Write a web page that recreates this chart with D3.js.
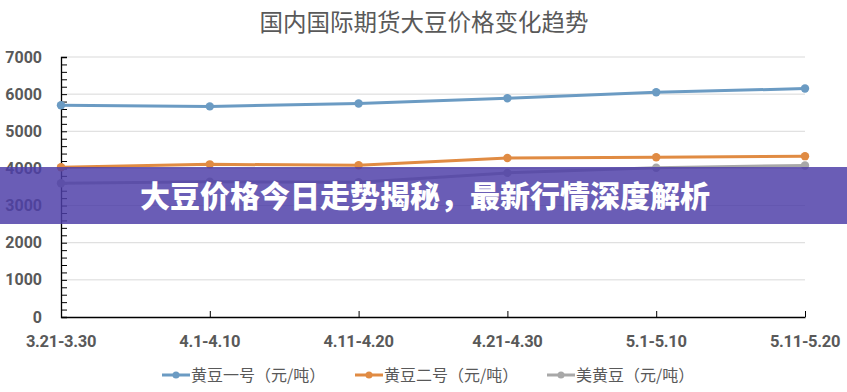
<!DOCTYPE html>
<html><head><meta charset="utf-8">
<script src="https://cdn.jsdelivr.net/npm/d3@7"></script>
<style>html,body{margin:0;padding:0;background:#fff;}svg{display:block;}</style>
</head><body>
<script>
const categories = ["3.21-3.30","4.1-4.10","4.11-4.20","4.21-4.30","5.1-5.10","5.11-5.20"];
const seriesNames = ["黄豆一号（元/吨）","黄豆二号（元/吨）","美黄豆（元/吨）"];
const soy1 = [5700, 5670, 5750, 5890, 6050, 6150];
const soy2 = [4030, 4110, 4085, 4280, 4300, 4330];
const usSoy = [3600, 3640, 3630, 3880, 4020, 4080];
const yTicks = [0,1000,2000,3000,4000,5000,6000,7000];
const titleText = "国内国际期货大豆价格变化趋势";
const bannerText = "大豆价格今日走势揭秘，最新行情深度解析";
const colors = ["#6b9bc3","#e08b43","#a8a8a8"];

(function(){
const W = 847, H = 392;
const svg = d3.select("body").append("svg").attr("width", W).attr("height", H);
const pL = 61, pR = 805, pT = 57, pB = 317;
const x = d3.scalePoint().domain(categories).range([pL, pR]).padding(0);
const y = d3.scaleLinear().domain([0, 7000]).range([pB, pT]);
const txt = "#595959";

svg.append("text").attr("x", 424).attr("y", 31).attr("text-anchor","middle")
  .attr("font-family","'Noto Sans CJK SC'").attr("font-size", 23.5).attr("fill", txt).text(titleText);

// gridlines
svg.append("g").selectAll("line").data(yTicks.filter(d=>d>0)).join("line")
  .attr("x1", pL).attr("x2", pR).attr("y1", d=>y(d)).attr("y2", d=>y(d))
  .attr("stroke", "#d9d9d9").attr("stroke-width", 1);

// y axis
const yAxis = svg.append("g").attr("transform", `translate(${pL},0)`)
  .call(d3.axisRight(y).tickValues(d3.range(0, 7001, 200)).tickSize(6).tickFormat(""));
yAxis.select(".domain").attr("stroke","#000").attr("stroke-width",1.3);
yAxis.selectAll(".tick line").attr("stroke","#000");
svg.append("g").selectAll("text").data(yTicks).join("text")
  .attr("x", 42).attr("y", d=>y(d)).attr("dy","0.35em").attr("text-anchor","end")
  .attr("font-family","Roboto").attr("font-weight","bold").attr("font-size",16).attr("fill",txt)
  .text(d=>d);

// x axis
const xAxis = svg.append("g").attr("transform", `translate(0,${pB})`)
  .call(d3.axisTop(x).tickSize(6).tickSizeOuter(0).tickFormat(""));
xAxis.select(".domain").attr("stroke","#000").attr("stroke-width",1.3);
xAxis.selectAll(".tick line").attr("stroke","#000");
svg.append("g").selectAll("text").data(categories).join("text")
  .attr("x", d=>x(d)).attr("y", 341).attr("dy","0.35em").attr("text-anchor","middle")
  .attr("font-family","Roboto").attr("font-weight","bold").attr("font-size",16.5).attr("fill",txt)
  .attr("letter-spacing", "-0.3")
  .text(d=>d);

// series
const allSeries = [soy1, soy2, usSoy];
const line = d3.line().x((d,i)=>x(categories[i])).y(d=>y(d));
allSeries.forEach((s, k) => {
  const g = svg.append("g");
  g.append("path").datum(s).attr("d", line).attr("fill","none")
    .attr("stroke", colors[k]).attr("stroke-width", 3).attr("stroke-linejoin","round");
  g.selectAll("circle").data(s).join("circle")
    .attr("cx",(d,i)=>x(categories[i])).attr("cy", d=>y(d)).attr("r",4.2).attr("fill",colors[k]);
});

// legend
const legendX = [162, 355, 547];
seriesNames.forEach((n,k)=>{
  const g = svg.append("g").attr("transform", `translate(${legendX[k]},375)`);
  g.append("line").attr("x1",0).attr("x2",28).attr("stroke",colors[k]).attr("stroke-width",3);
  g.append("circle").attr("cx",14).attr("r",3.5).attr("fill",colors[k]);
  g.append("text").attr("x",29).attr("dy","0.35em").attr("font-family","'Noto Sans CJK SC'")
    .attr("font-size",16).attr("fill",txt).text(n);
});

// banner overlay
svg.append("rect").attr("x",0).attr("y",167).attr("width",W).attr("height",57)
  .attr("fill","rgb(78,62,168)").attr("fill-opacity",0.84);
svg.append("text").attr("x",425).attr("y",196).attr("dy","0.36em").attr("text-anchor","middle")
  .attr("font-family","'Noto Sans CJK SC'").attr("font-weight","900").attr("font-size",30)
  .attr("fill","#fff").text(bannerText);
})();
</script>
</body></html>
